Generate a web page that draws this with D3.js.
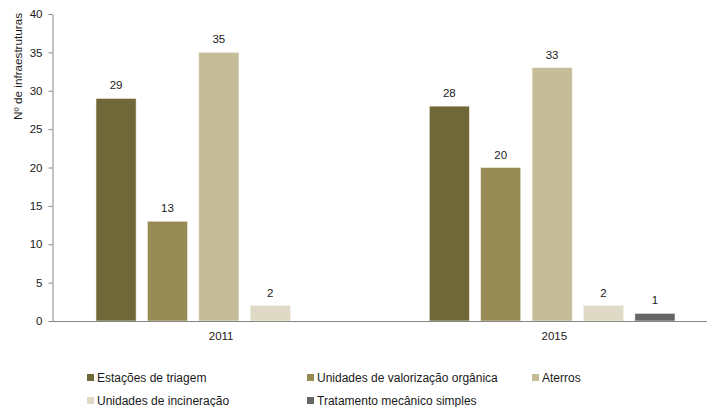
<!DOCTYPE html>
<html><head><meta charset="utf-8">
<script src="https://cdn.jsdelivr.net/npm/d3@7"></script>
<style>
body{margin:0;background:#fff;}
svg{display:block;font-family:"Liberation Sans",Arial,sans-serif;}
</style></head>
<body><svg id="c" width="707" height="407"></svg>
<script>
const years = ["2011","2015"];
const seriesNames = ["Estações de triagem","Unidades de valorização orgânica","Aterros","Unidades de incineração","Tratamento mecânico simples"];
const seriesColors = ["#716839","#968b55","#c5bd97","#dedac5","#666666"];
const values2011 = [29,13,35,2,null];
const values2015 = [28,20,33,2,1];
const yTicks = [0,5,10,15,20,25,30,35,40];
const yTitle = "Nº de infraestruturas";

const valuesByYear = [values2011, values2015];
const svg = d3.select("#c");
const axisColor = "#868686";
const textColor = "#1a1a1a";

const y = d3.scaleLinear().domain([0,40]).range([321,14]);
const x0 = d3.scaleBand().domain(years).range([52.5,719]).paddingInner(0).paddingOuter(0);
const x1 = d3.scaleBand().domain(d3.range(5)).range([43.5, x0.bandwidth()-44]).paddingInner(0.22).paddingOuter(0);

// y axis
const yAxis = d3.axisLeft(y).tickValues(yTicks).tickSize(4).tickSizeOuter(0).tickPadding(6);
const ga = svg.append("g").attr("transform","translate(52.5,0)").call(yAxis);
ga.select(".domain").attr("stroke",axisColor);
ga.selectAll(".tick line").attr("stroke",axisColor);
ga.selectAll(".tick text").attr("fill",textColor).style("font-size","11.5px").attr("font-family","Liberation Sans, Arial, sans-serif");

// bars
const groups = svg.selectAll("g.yr").data(years).enter().append("g")
  .attr("transform",d=>`translate(${x0(d)},0)`);
groups.each(function(yr,i){
  const g = d3.select(this);
  const data = valuesByYear[i].map((v,j)=>({v,j})).filter(d=>d.v!=null);
  g.selectAll("rect").data(data).enter().append("rect")
    .attr("x",d=>x1(d.j)).attr("width",x1.bandwidth())
    .attr("y",d=>y(d.v)).attr("height",d=>y(0)-y(d.v))
    .attr("fill",d=>seriesColors[d.j])
    .attr("stroke","#f4f2ea").attr("stroke-width",0.6);
  g.selectAll("text.lbl").data(data).enter().append("text")
    .attr("class","lbl")
    .attr("x",d=>x1(d.j)+x1.bandwidth()/2).attr("y",d=>y(d.v)-9)
    .attr("text-anchor","middle").attr("fill",textColor).style("font-size","11.5px")
    .text(d=>d.v);
});

// x baseline
svg.append("line").attr("x1",52.5).attr("x2",719).attr("y1",321.5).attr("y2",321.5).attr("stroke",axisColor);
// category labels
svg.selectAll("text.cat").data(years).enter().append("text").attr("class","cat")
  .attr("x",d=>x0(d)+x0.bandwidth()/2+2).attr("y",339.5)
  .attr("text-anchor","middle").attr("fill",textColor).style("font-size","11.5px").text(d=>d);

// y title
svg.append("text").attr("transform","translate(22,13) rotate(-90)")
  .attr("text-anchor","end").attr("fill",textColor).style("font-size","11.7px").text(yTitle);

// legend
const legPos = [[87,374],[307,374],[532,374],[87,397],[307,397]];
const leg = svg.selectAll("g.leg").data(seriesNames).enter().append("g")
  .attr("transform",(d,i)=>`translate(${legPos[i][0]},${legPos[i][1]})`);
leg.append("rect").attr("width",7).attr("height",7).attr("fill",(d,i)=>seriesColors[i]);
leg.append("text").attr("x",10).attr("y",8.3).attr("fill",textColor).style("font-size","12px").text(d=>d);
</script></body></html>
